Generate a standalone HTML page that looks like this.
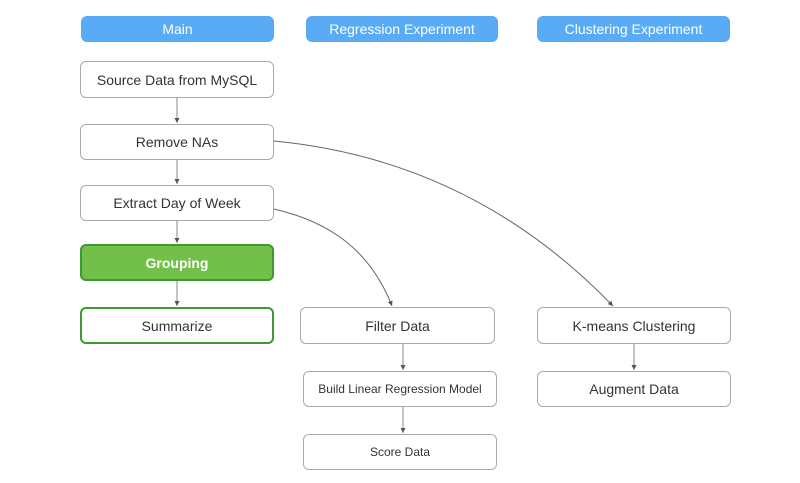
<!DOCTYPE html>
<html><head><style>
body{margin:0;width:800px;height:483px;background:#fff;position:relative;font-family:"Liberation Sans",sans-serif;overflow:hidden}
.h{position:absolute;height:26px;background:#5aabf5;border-radius:6px;color:#fff;font-size:14px;line-height:26px;text-align:center}
.b{position:absolute;box-sizing:border-box;border:1px solid #aaa;border-radius:6px;background:#fff;color:#333;font-size:14px;text-align:center;display:flex;align-items:center;justify-content:center}
svg{position:absolute;left:0;top:0}
</style></head><body>
<svg width="800" height="483">
<defs><marker id="a" markerWidth="6" markerHeight="6" refX="5" refY="3" orient="auto"><path d="M0,0.5 L5,3 L0,5.5z" fill="#555"/></marker></defs>
<g stroke="#888" stroke-width="1" fill="none">
<line x1="177" y1="98" x2="177" y2="123" marker-end="url(#a)"/>
<line x1="177" y1="160" x2="177" y2="184" marker-end="url(#a)"/>
<line x1="177" y1="221" x2="177" y2="243" marker-end="url(#a)"/>
<line x1="177" y1="281" x2="177" y2="306" marker-end="url(#a)"/>
<line x1="403" y1="344" x2="403" y2="370" marker-end="url(#a)"/>
<line x1="403" y1="407" x2="403" y2="433" marker-end="url(#a)"/>
<line x1="634" y1="344" x2="634" y2="370" marker-end="url(#a)"/>
<path d="M274,141 C420,155 530,220 613,306" stroke="#666" marker-end="url(#a)"/>
<path d="M274,209 C330,222 370,250 392,306" stroke="#666" marker-end="url(#a)"/>
</g></svg>
<div class="h" style="left:81px;top:16px;width:193px">Main</div>
<div class="h" style="left:306px;top:16px;width:192px">Regression Experiment</div>
<div class="h" style="left:537px;top:16px;width:193px">Clustering Experiment</div>
<div class="b" style="left:80px;top:61px;width:194px;height:37px">Source Data from MySQL</div>
<div class="b" style="left:80px;top:124px;width:194px;height:36px">Remove NAs</div>
<div class="b" style="left:80px;top:185px;width:194px;height:36px">Extract Day of Week</div>
<div class="b" style="left:80px;top:244px;width:194px;height:37px;background:#72bf4a;border:2px solid #3d9a30;color:#fff;font-weight:bold">Grouping</div>
<div class="b" style="left:80px;top:307px;width:194px;height:37px;border:2px solid #3d9a30">Summarize</div>
<div class="b" style="left:300px;top:307px;width:195px;height:37px">Filter Data</div>
<div class="b" style="left:303px;top:371px;width:194px;height:36px;font-size:12px">Build Linear Regression Model</div>
<div class="b" style="left:303px;top:434px;width:194px;height:36px;font-size:12px">Score Data</div>
<div class="b" style="left:537px;top:307px;width:194px;height:37px">K-means Clustering</div>
<div class="b" style="left:537px;top:371px;width:194px;height:36px">Augment Data</div>
</body></html>
